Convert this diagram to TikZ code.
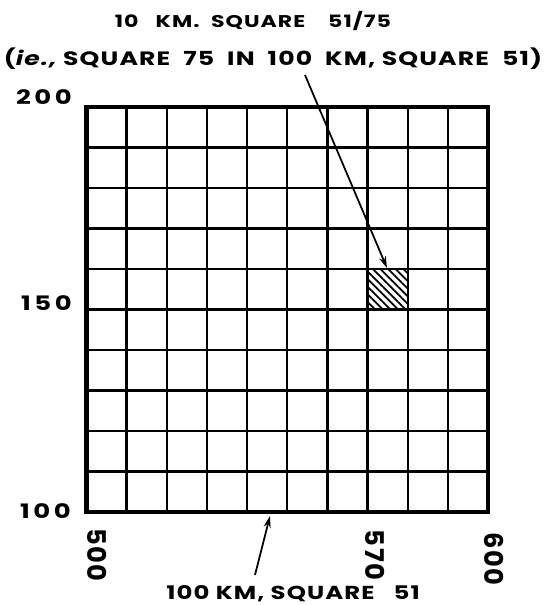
\documentclass[tikz,border=0pt]{standalone}
\usepackage{fontspec}
\newfontfamily\lettering{Poppins}[FakeStretch=1.3,LetterSpace=6]
\newfontfamily\figures{Poppins}[LetterSpace=6]
\usetikzlibrary{arrows.meta,patterns.meta}
\begin{document}
\begin{tikzpicture}[x=0.03cm,y=-0.03cm,
    lbl/.style={font=\lettering\bfseries\fontsize{16.5}{20}\selectfont, inner sep=0pt},
    northing/.style={lbl, anchor=base east, font=\lettering\bfseries\fontsize{17}{20}\selectfont\addfontfeature{LetterSpace=18}},
    easting/.style={inner sep=0pt, rotate=-90, font=\figures\bfseries\fontsize{22}{24}\selectfont},
    gridline/.style={line width=2pt},
    pointer/.style={line width=1.5pt, -{Stealth[length=10pt,width=6pt]}}]
    \useasboundingbox (0,0) rectangle (546,605);
    % 100 km square, a line every 10 km
    \foreach \i in {1,...,9} {
        \draw[gridline] ({86.5+40.15*\i},107) -- ({86.5+40.15*\i},512);
        \draw[gridline] (86.5,{107+40.5*\i}) -- (488,{107+40.5*\i});
    }
    \draw[line width=3.5pt] (86.5,107) rectangle (488,512);
    % square 75 hatched
    \fill[pattern={Lines[angle=-45,distance=4.6pt,line width=1.5pt]}] (368.5,268) rectangle (408.5,309);
    \node[lbl, anchor=base, font=\lettering\bfseries\fontsize{14.5}{16}\selectfont] (sq10) at (253,27) {10\ \ \ KM.\ \ SQUARE\ \ \ \ 51/75};
    \node[lbl, anchor=base] (sq10note) at (273,65) {({\itshape ie.,} SQUARE\ \ 75\ \ IN\ \ 100\ \ KM,\ SQUARE\ \ 51)};
    \node[northing] (n200) at (72,104) {200};
    \node[northing] (n150) at (72,310) {150};
    \node[northing] (n100) at (71,518) {100};
    \node[easting] (e500) at (97,555) {500};
    \node[easting] (e570) at (375,555) {570};
    \node[easting] (e600) at (494,559) {600};
    \node[lbl, anchor=base, font=\lettering\bfseries\fontsize{16}{20}\selectfont] (sq100) at (293,599) {100\ KM,\ SQUARE\ \ \ 51};
    \coordinate (tailA) at (305,75);
    \coordinate (tipA) at (387,268);
    \coordinate (tailB) at (255,575);
    \coordinate (tipB) at (270,516);
    \draw[pointer] (tailA) -- (tipA);
    \draw[pointer] (tailB) -- (tipB);
\end{tikzpicture}
\end{document}
